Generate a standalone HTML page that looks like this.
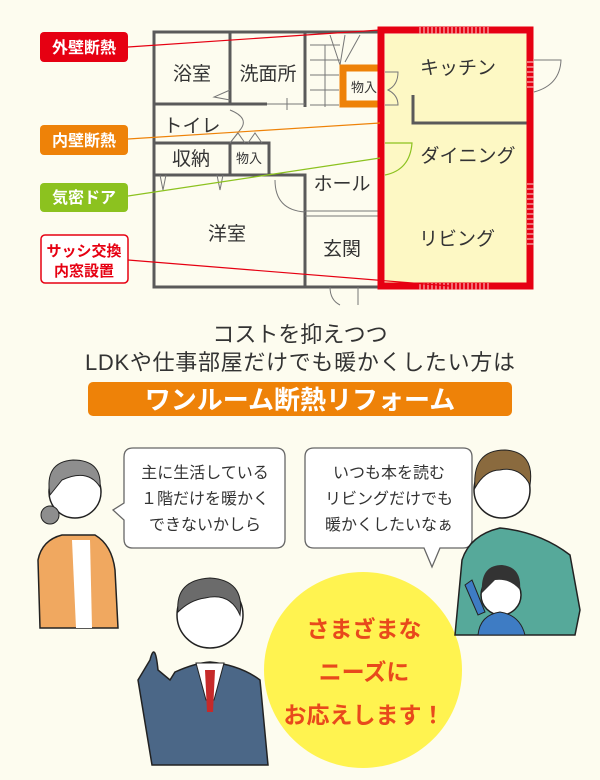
<!DOCTYPE html>
<html><head><meta charset="utf-8"><style>
html,body{margin:0;padding:0}
body{width:600px;height:780px;background:#fdfcef;position:relative;overflow:hidden;font-family:"Liberation Sans","Noto Sans CJK JP",sans-serif;color:#333}
</style></head><body>
<svg width="600" height="780" style="position:absolute;left:0;top:0" font-family="Liberation Sans, Noto Sans CJK JP, sans-serif">
<rect x="385" y="34" width="143" height="250" fill="#fdf8c4"/>
<g stroke="#5a5a5a" stroke-width="3" fill="none">
<path d="M380 32 H154 V287 H380"/>
<path d="M230 32 V104 M154 104 H267 M305 32 V107"/>
<path d="M154 143 H230 M230 143 V175 H269 V143 H230 M154 175 H230 M269 175 H305 V287"/>
<path d="M413 95 V123 H527"/>
</g>
<g stroke="#777" stroke-width="1" fill="none">
<path d="M305 211 H378 M305 216 H378"/>
<path d="M310 45 H340 M310 60 H340 M310 75 H339 M310 90 H339 M310 105 H339 M325 45 V107 M330 35 L340 65 M345 35 L340 65 M360 35 L345 62"/>
<path d="M267 104 H305 M287 98 V110"/>
<path d="M230 90 L214 97 L230 100"/>
<path d="M230 110 Q250 118 240 130 L230 143"/>
<path d="M230 143 L238 133 L245 143 M248 143 L255 133 L262 143"/>
<path d="M160 175 L163 190 L166 175 M217 175 L220 190 L223 175"/>
<path d="M275 180 Q275 210 305 212"/>
<path d="M385 72 H398 Q398 85 388 90 Q398 95 398 105 H385"/>
<path d="M534 60 H561 Q560 85 534 92"/>
<path d="M330 287 Q330 300 340 305 M358 287 V305"/>
</g>
<path d="M381 34 V284" stroke="#ee8208" stroke-width="7"/>
<path d="M381 68 H343 V104 H381" stroke="#ee8208" stroke-width="7" fill="#fdfcef"/>
<path d="M381 143 V175" stroke="#8cc21f" stroke-width="7"/>
<path d="M385 143 H412 Q410 170 385 175" stroke="#8cc21f" stroke-width="1.2" fill="none"/>
<rect x="381" y="30" width="149" height="256" fill="none" stroke="#e60012" stroke-width="7"/>
<g stroke="#f7b6b6" stroke-width="1.2">
<path d="M420 27v7M424 27v7M428 27v7M432 27v7M436 27v7M440 27v7M444 27v7M448 27v7M452 27v7M456 27v7M460 27v7M464 27v7M468 27v7M472 27v7M476 27v7M480 27v7M484 27v7M488 27v7"/>
<path d="M420 283v7M424 283v7M428 283v7M432 283v7M436 283v7M440 283v7M444 283v7M448 283v7M452 283v7M456 283v7M460 283v7M464 283v7M468 283v7M472 283v7M476 283v7M480 283v7M484 283v7M488 283v7"/>
<path d="M527 62h7M527 67h7M527 72h7M527 77h7M527 82h7M527 87h7"/>
<path d="M527 184h7M527 189h7M527 194h7M527 199h7M527 204h7M527 209h7M527 214h7M527 219h7M527 224h7M527 229h7M527 234h7M527 239h7M527 244h7"/>
</g>
<line x1="128" y1="47" x2="380" y2="30" stroke="#e60012" stroke-width="1.2"/>
<line x1="128" y1="139" x2="380" y2="123" stroke="#ee8208" stroke-width="1.2"/>
<line x1="128" y1="196" x2="380" y2="158" stroke="#8cc21f" stroke-width="1.2"/>
<line x1="128" y1="260" x2="450" y2="286" stroke="#e60012" stroke-width="1.2"/>
<rect x="40" y="32" width="88" height="30" rx="4" fill="#e60012"/>
<rect x="40" y="125" width="88" height="30" rx="4" fill="#ee8208"/>
<rect x="40" y="183" width="88" height="29" rx="4" fill="#8cc21f"/>
<rect x="41" y="235" width="87" height="48" rx="4" fill="#fff" stroke="#e60012" stroke-width="1.5"/>
<g font-weight="bold" font-size="16" fill="#fff" text-anchor="middle">
<text x="84" y="53">外壁断熱</text><text x="84" y="146">内壁断熱</text><text x="84" y="203">気密ドア</text>
</g>
<g font-weight="bold" font-size="15" fill="#e60012" text-anchor="middle">
<text x="84" y="256">サッシ交換</text><text x="84" y="276">内窓設置</text>
</g>
<g font-size="19" fill="#333" text-anchor="middle">
<text x="192" y="80">浴室</text><text x="268" y="80">洗面所</text><text x="458" y="74">キッチン</text>
<text x="192" y="132">トイレ</text><text x="191" y="165">収納</text><text x="342" y="190">ホール</text>
<text x="468" y="162">ダイニング</text><text x="227" y="240">洋室</text><text x="342" y="255">玄関</text><text x="457" y="245">リビング</text>
</g>
<g font-size="13" fill="#333" text-anchor="middle"><text x="364" y="92">物入</text><text x="249" y="163">物入</text></g>
<g font-size="22" fill="#333" text-anchor="middle"><text x="300" y="342">コストを抑えつつ</text><text x="300" y="370" textLength="430">LDKや仕事部屋だけでも暖かくしたい方は</text></g>
<rect x="88" y="382" width="424" height="34" rx="5" fill="#ee8208"/>
<text x="300" y="409" font-size="26" font-weight="bold" fill="#fff" text-anchor="middle">ワンルーム断熱リフォーム</text>
<g fill="#fff" stroke="#666" stroke-width="1.3">
<path d="M133 448 H276 Q285 448 285 457 V539 Q285 548 276 548 H133 Q124 548 124 539 V520 L113 510 L124 503 V457 Q124 448 133 448Z"/>
<path d="M314 448 H463 Q472 448 472 457 V539 Q472 548 463 548 H440 L432 567 L424 548 H314 Q305 548 305 539 V457 Q305 448 314 448Z"/>
</g>
<g font-size="16" fill="#333" text-anchor="middle">
<text x="205" y="478">主に生活している</text><text x="205" y="504">１階だけを暖かく</text><text x="205" y="530">できないかしら</text>
<text x="389" y="478">いつも本を読む</text><text x="389" y="504">リビングだけでも</text><text x="389" y="530">暖かくしたいなぁ</text>
</g>
<circle cx="75" cy="492" r="26" fill="#fff" stroke="#222" stroke-width="1.5"/>
<path d="M50 495 Q44 462 73 460 Q102 460 100 487 Q88 468 62 480 Z" fill="#8e8e8e" stroke="#222"/>
<circle cx="50" cy="515" r="9" fill="#8e8e8e" stroke="#222"/>
<path d="M40 628 L38 560 Q42 540 62 535 H95 Q112 545 115 570 L118 628 Z" fill="#f0a860" stroke="#222" stroke-width="1.5"/>
<path d="M72 540 H90 L92 628 H76 Z" fill="#fff"/>
<circle cx="210" cy="615" r="33" fill="#fff" stroke="#222" stroke-width="1.5"/>
<path d="M178 612 Q175 580 210 578 Q245 580 240 615 Q230 592 205 598 Q190 600 178 612Z" fill="#6b6b6b" stroke="#222"/>
<path d="M152 765 L138 680 L150 660 Q155 640 158 670 L170 680 L175 672 Q195 663 210 662 Q240 665 260 680 L268 765 Z" fill="#4b6787" stroke="#222" stroke-width="1.5"/>
<path d="M196 663 H224 L214 700 H206 Z" fill="#fff" stroke="#222"/>
<path d="M205 670 H215 L213 712 H207 Z" fill="#c62a2a"/>
<ellipse cx="363" cy="670" rx="99" ry="98" fill="#fff350"/>
<g font-size="23" font-weight="bold" fill="#e8491c" text-anchor="middle">
<text x="364" y="637">さまざまな</text><text x="364" y="680">ニーズに</text><text x="364" y="723">お応えします！</text>
</g>
<circle cx="502" cy="490" r="28" fill="#fff" stroke="#222" stroke-width="1.5"/>
<path d="M475 488 Q472 450 505 450 Q535 452 530 485 Q520 466 500 470 Q485 470 475 488Z" fill="#8a6a3e" stroke="#222"/>
<path d="M455 635 L462 560 Q470 535 500 528 Q540 532 570 555 L580 610 L575 635 Z" fill="#56a99a" stroke="#222" stroke-width="1.5"/>
<circle cx="501" cy="595" r="20" fill="#fff" stroke="#222" stroke-width="1.5"/>
<path d="M482 593 Q480 565 502 565 Q522 567 520 590 Q510 578 495 580Z" fill="#333"/>
<path d="M478 635 Q480 615 500 612 Q520 615 525 635 Z M465 585 L478 615 L485 612 L472 580Z" fill="#3e7cc4" stroke="#222"/>
</svg>
</body></html>
